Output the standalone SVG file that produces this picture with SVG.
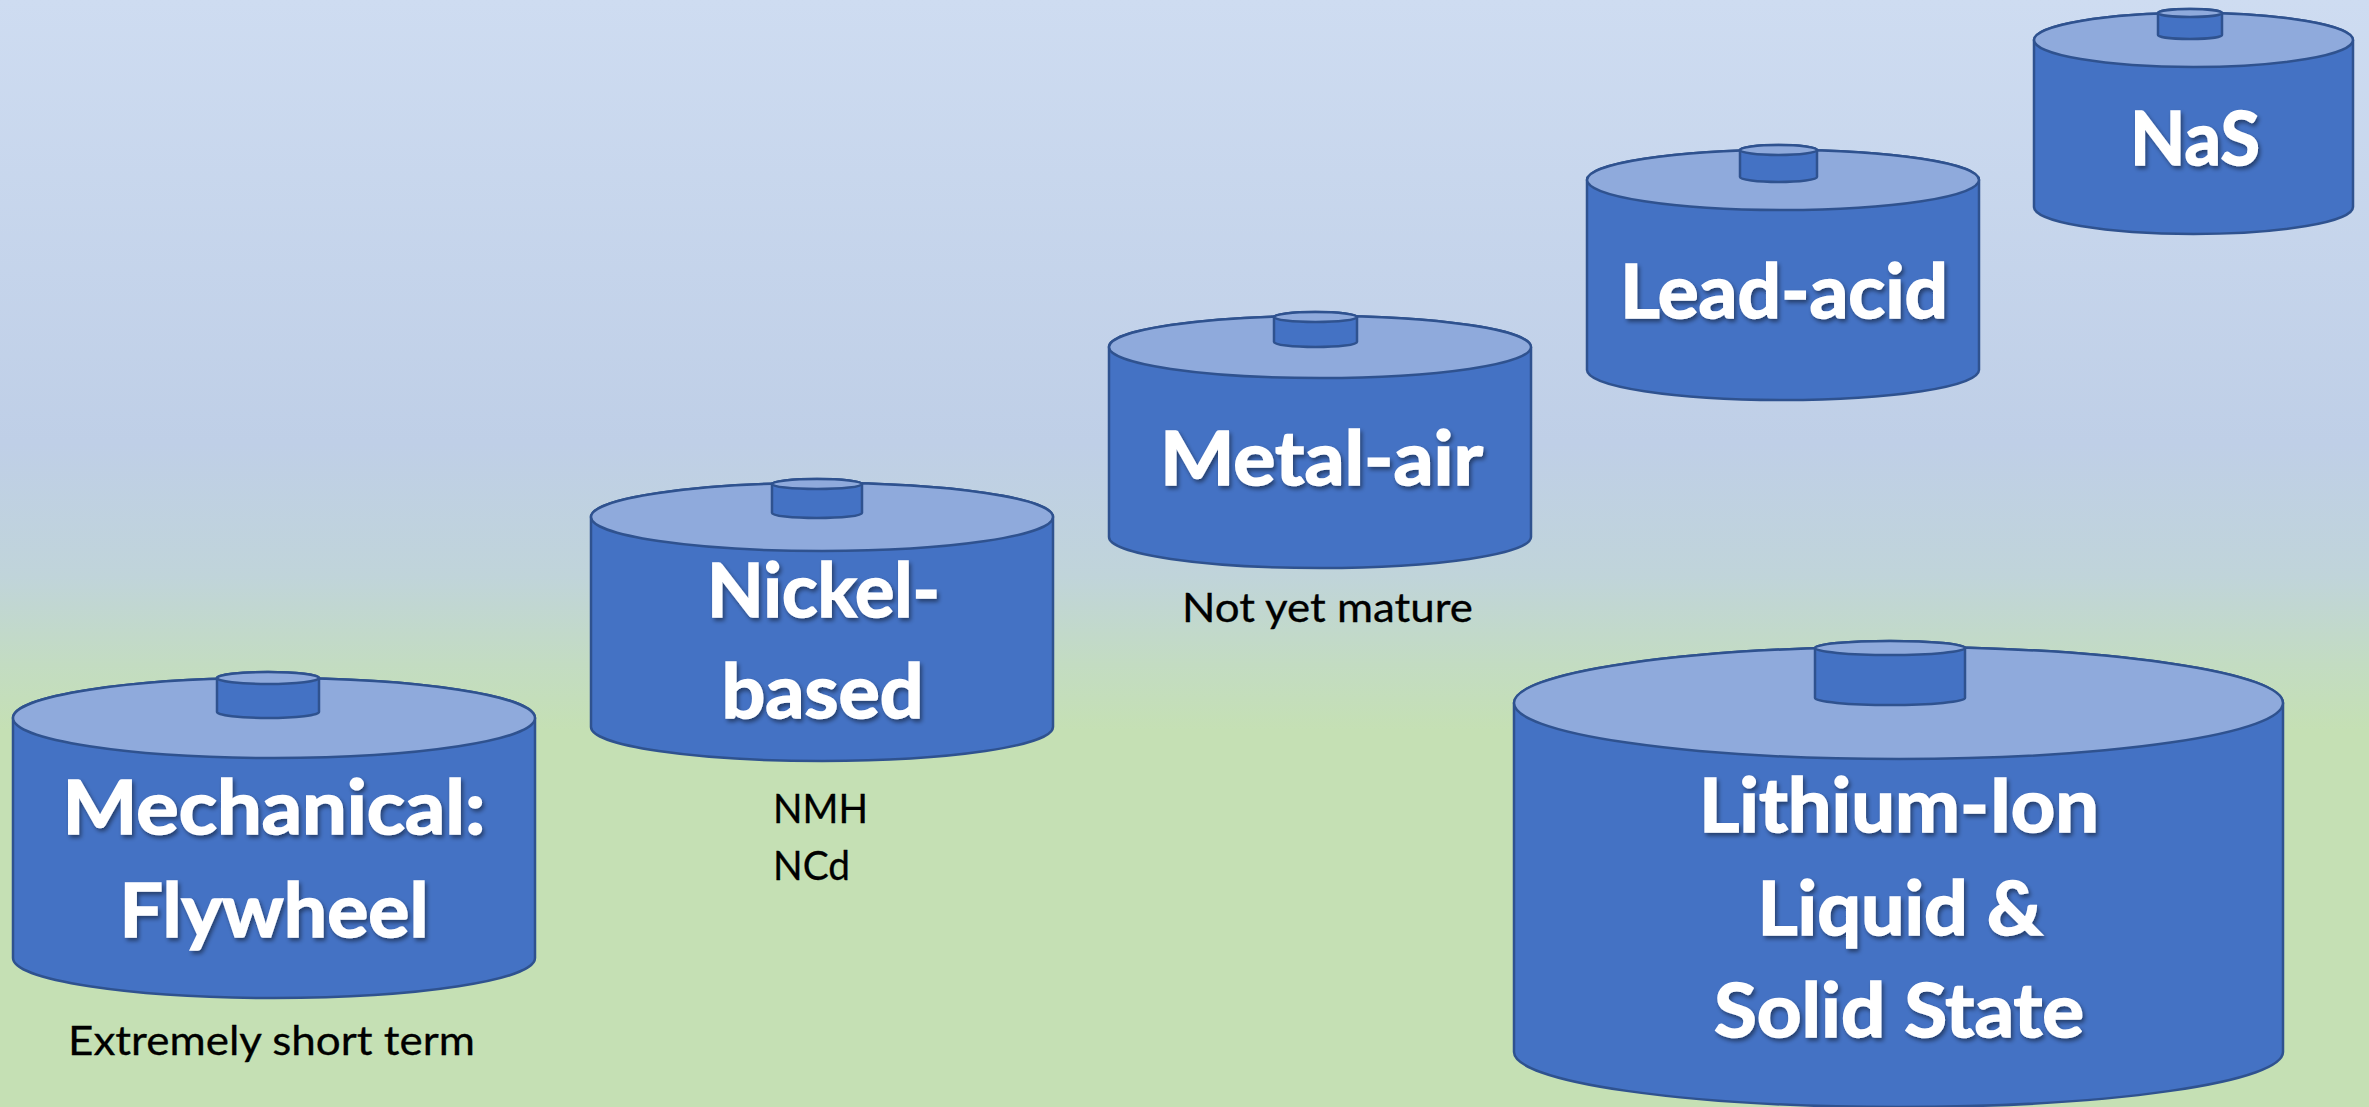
<svg xmlns="http://www.w3.org/2000/svg" width="2369" height="1107" viewBox="0 0 2369 1107">
  <defs>
    <linearGradient id="bg" x1="0" y1="0" x2="0" y2="1">
      <stop offset="0" stop-color="#cedcf1"/>
      <stop offset="0.40" stop-color="#bfcfe7"/>
      <stop offset="0.52" stop-color="#c0d4da"/>
      <stop offset="0.60" stop-color="#c3dcc2"/>
      <stop offset="0.66" stop-color="#c5e0b4"/>
      <stop offset="1" stop-color="#c5e0b4"/>
    </linearGradient>
    <filter id="shadow" x="-10%" y="-20%" width="120%" height="150%">
      <feDropShadow dx="2" dy="3" stdDeviation="2" flood-color="#000000" flood-opacity="0.45"/>
    </filter>
  </defs>
  <style>
    .body { fill: #4472c4; stroke: #2f528f; stroke-width: 2.5; }
    .top { fill: #8faadc; stroke: #2f528f; stroke-width: 2.5; }
    .title { font-family: Lato, "Open Sans", "Liberation Sans", sans-serif; font-weight: bold; font-size: 75px; fill: #ffffff; stroke: #ffffff; stroke-width: 1.6; text-anchor: middle; filter: url(#shadow); }
    .note { font-family: Lato, "Open Sans", "Liberation Sans", sans-serif; font-size: 41px; fill: #000000; stroke: #000000; stroke-width: 0.3; }
  </style>
  <rect x="0" y="0" width="2369" height="1107" fill="url(#bg)"/>

  <g id="connectors"></g>

  <!-- Mechanical: Flywheel -->
  <g id="flywheel">
    <path class="body" d="M13,718 L13,958 A261,40 0 0 0 535,958 L535,718 A261,40 0 0 0 13,718 Z"/>
    <ellipse class="top" cx="274" cy="718" rx="261" ry="40"/>
    <path class="body" d="M217,678 L217,712 A51,6 0 0 0 319,712 L319,678 A51,6 0 0 0 217,678 Z"/>
    <ellipse class="top" cx="268" cy="678" rx="51" ry="6"/>
    <text class="title" x="274" y="834" textLength="423" lengthAdjust="spacingAndGlyphs">Mechanical:</text>
    <text class="title" x="274" y="937" textLength="309" lengthAdjust="spacingAndGlyphs">Flywheel</text>
    <text class="note" x="271.5" y="1055" text-anchor="middle" textLength="407" lengthAdjust="spacingAndGlyphs">Extremely short term</text>
  </g>

  <!-- Nickel-based -->
  <g id="nickel">
    <path class="body" d="M591,517 L591,727 A231,34 0 0 0 1053,727 L1053,517 A231,34 0 0 0 591,517 Z"/>
    <ellipse class="top" cx="822" cy="517" rx="231" ry="34"/>
    <path class="body" d="M772,484 L772,513 A45,5 0 0 0 862,513 L862,484 A45,5 0 0 0 772,484 Z"/>
    <ellipse class="top" cx="817" cy="484" rx="45" ry="5"/>
    <text class="title" x="823.5" y="617" textLength="233" lengthAdjust="spacingAndGlyphs">Nickel-</text>
    <text class="title" x="822.5" y="718" textLength="202" lengthAdjust="spacingAndGlyphs">based</text>
    <text class="note" x="773" y="823" textLength="95" lengthAdjust="spacingAndGlyphs">NMH</text>
    <text class="note" x="773" y="880" textLength="77" lengthAdjust="spacingAndGlyphs">NCd</text>
  </g>

  <!-- Metal-air -->
  <g id="metal-air">
    <path class="body" d="M1109,347 L1109,537 A211,31 0 0 0 1531,537 L1531,347 A211,31 0 0 0 1109,347 Z"/>
    <ellipse class="top" cx="1320" cy="347" rx="211" ry="31"/>
    <path class="body" d="M1274,317 L1274,342 A41.5,5 0 0 0 1357,342 L1357,317 A41.5,5 0 0 0 1274,317 Z"/>
    <ellipse class="top" cx="1315.5" cy="317" rx="41.5" ry="5"/>
    <text class="title" x="1321.5" y="485" textLength="323" lengthAdjust="spacingAndGlyphs">Metal-air</text>
    <text class="note" x="1327.5" y="622" text-anchor="middle" textLength="291" lengthAdjust="spacingAndGlyphs">Not yet mature</text>
  </g>

  <!-- Lead-acid -->
  <g id="lead-acid">
    <path class="body" d="M1587,180 L1587,370 A196,30 0 0 0 1979,370 L1979,180 A196,30 0 0 0 1587,180 Z"/>
    <ellipse class="top" cx="1783" cy="180" rx="196" ry="30"/>
    <path class="body" d="M1740,150 L1740,177 A38.5,5 0 0 0 1817,177 L1817,150 A38.5,5 0 0 0 1740,150 Z"/>
    <ellipse class="top" cx="1778.5" cy="150" rx="38.5" ry="5"/>
    <text class="title" x="1784" y="318" textLength="328" lengthAdjust="spacingAndGlyphs">Lead-acid</text>
  </g>

  <!-- NaS -->
  <g id="nas">
    <path class="body" d="M2034,40 L2034,207 A159.5,27 0 0 0 2353,207 L2353,40 A159.5,27 0 0 0 2034,40 Z"/>
    <ellipse class="top" cx="2193.5" cy="40" rx="159.5" ry="27"/>
    <path class="body" d="M2158,13 L2158,35 A32,4 0 0 0 2222,35 L2222,13 A32,4 0 0 0 2158,13 Z"/>
    <ellipse class="top" cx="2190" cy="13" rx="32" ry="4"/>
    <text class="title" x="2195" y="165" textLength="130" lengthAdjust="spacingAndGlyphs">NaS</text>
  </g>

  <!-- Lithium-Ion -->
  <g id="lithium-ion">
    <path class="body" d="M1514,703 L1514,1052 A384.5,55 0 0 0 2283,1052 L2283,703 A384.5,56 0 0 0 1514,703 Z"/>
    <ellipse class="top" cx="1898.5" cy="703" rx="384.5" ry="56"/>
    <path class="body" d="M1815,648 L1815,698 A75,7 0 0 0 1965,698 L1965,648 A75,7 0 0 0 1815,648 Z"/>
    <ellipse class="top" cx="1890" cy="648" rx="75" ry="7"/>
    <text class="title" x="1899" y="832" textLength="400" lengthAdjust="spacingAndGlyphs">Lithium-Ion</text>
    <text class="title" x="1900" y="935" textLength="285" lengthAdjust="spacingAndGlyphs">Liquid &amp;</text>
    <text class="title" x="1899" y="1037" textLength="370" lengthAdjust="spacingAndGlyphs">Solid State</text>
  </g>
</svg>
